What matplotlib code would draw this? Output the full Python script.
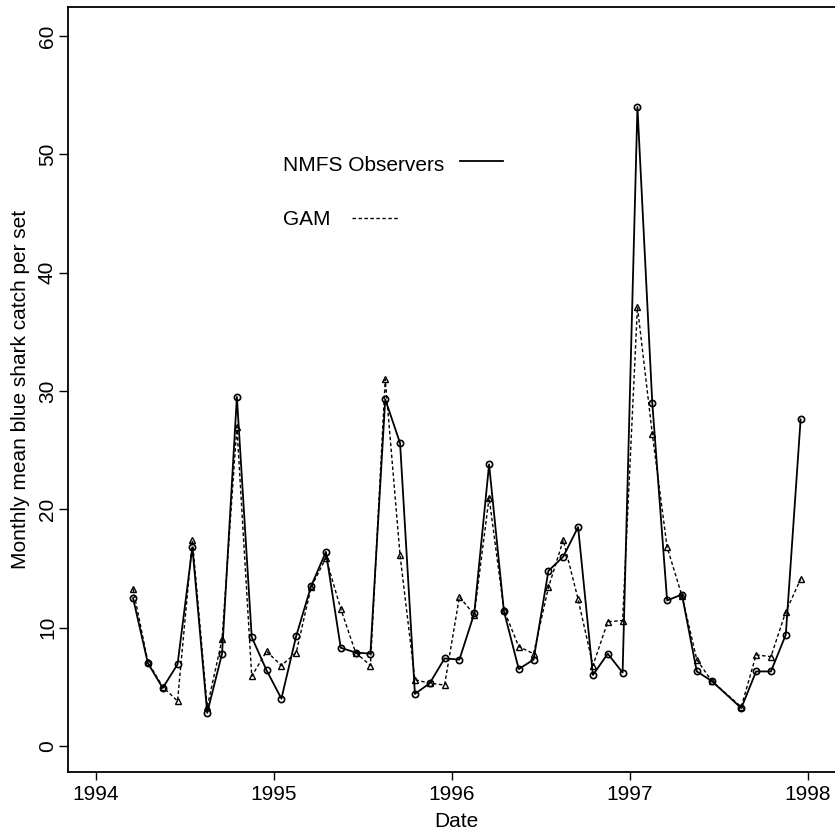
import matplotlib
matplotlib.use("Agg")
import matplotlib.pyplot as plt
import numpy as np

plt.rcParams['font.family'] = ['Liberation Sans', 'DejaVu Sans']

# Month index of each observation (year, month)
years = [1994]*10 + [1995]*12 + [1996]*12 + [1997]*11
months = [3, 4, 5, 6, 7, 8, 9, 10, 11, 12,
          1, 2, 3, 4, 5, 6, 7, 8, 9, 10, 11, 12,
          1, 2, 3, 4, 5, 6, 7, 8, 9, 10, 11, 12,
          1, 2, 3, 4, 5, 6, 8, 9, 10, 11, 12]

observers = [12.5, 7.0, 4.9, 6.9, 16.8, 2.8, 7.8, 29.5, 9.2, 6.4,
             4.0, 9.3, 13.5, 16.4, 8.3, 7.9, 7.8, 29.3, 25.6, 4.4, 5.3, 7.4,
             7.3, 11.2, 23.8, 11.4, 6.5, 7.3, 14.8, 16.0, 18.5, 6.0, 7.8, 6.2,
             54.0, 29.0, 12.3, 12.8, 6.3, 5.5, 3.2, 6.3, 6.3, 9.4, 27.6]

gam = [13.3, 7.1, 5.0, 3.8, 17.4, 3.3, 9.0, 27.0, 5.9, 8.0,
       6.8, 7.9, 13.4, 15.9, 11.6, 7.9, 6.8, 31.0, 16.1, 5.6, 5.3, 5.15,
       12.6, 11.1, 21.0, 11.5, 8.4, 7.8, 13.4, 17.4, 12.4, 6.8, 10.5, 10.6,
       37.1, 26.4, 16.8, 12.7, 7.3, 5.5, 3.3, 7.7, 7.55, 11.35, 14.1]

x_ticks = [1994, 1995, 1996, 1997, 1998]
y_ticks = [0, 10, 20, 30, 40, 50, 60]

dates = np.array(years) + (np.array(months) - 0.5) / 12.0

fig = plt.figure(figsize=(8.35, 8.32), dpi=100)
ax = fig.add_axes([68/835, 1 - 772/832, (844 - 68)/835, (772 - 6.5)/832])

ax.plot(dates, gam, color='black', lw=1.0, linestyle=(0, (2.5, 1.8)),
        marker='^', markersize=4.5, markerfacecolor='none', markeredgewidth=1.0)
ax.plot(dates, observers, color='black', lw=1.3, linestyle='-',
        marker='o', markersize=4.5, markerfacecolor='none', markeredgewidth=1.2)

# legend drawn as text + line segments, like the original
ax.text(1995.051, 49.1, 'NMFS Observers', fontsize=15, va='center', ha='left')
ax.plot([1996.045, 1996.287], [49.4, 49.4], color='black', lw=1.3)
ax.text(1995.051, 44.46, 'GAM', fontsize=15, va='center', ha='left')
ax.plot([1995.438, 1995.697], [44.6, 44.6], color='black', lw=1.0,
        linestyle=(0, (2.5, 1.8)))

ax.set_xlim(1993.843, 1998.202)
ax.set_ylim(-2.2, 62.5)
ax.set_xticks(x_ticks)
ax.set_xticklabels([str(t) for t in x_ticks])
ax.set_yticks(y_ticks)
ax.set_yticklabels([str(t) for t in y_ticks], rotation=90, va='center')
ax.tick_params(direction='out', width=1, labelsize=15)
ax.tick_params(axis='x', length=5.5, pad=3.5)
ax.tick_params(axis='y', length=6.5, pad=1.5)
for s in ax.spines.values():
    s.set_linewidth(1.3)

ax.set_xlabel('Date', fontsize=15, labelpad=6)
ax.set_ylabel('Monthly mean blue shark catch per set', fontsize=15, labelpad=6)

fig.savefig('out.png', dpi=100)
